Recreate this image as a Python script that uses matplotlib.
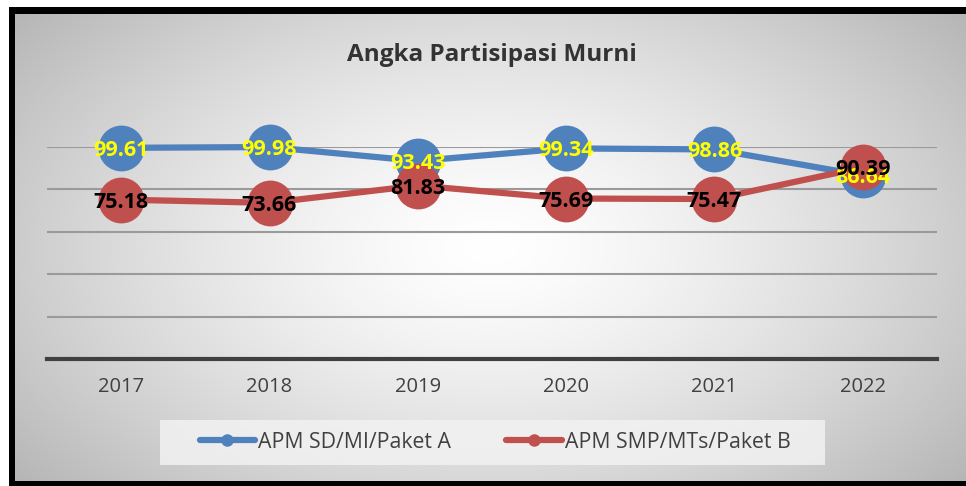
import numpy as np
import matplotlib
matplotlib.use("Agg")
import matplotlib.pyplot as plt
from matplotlib.lines import Line2D

# data
years = ["2017", "2018", "2019", "2020", "2021", "2022"]
apm_sd = [99.61, 99.98, 93.43, 99.34, 98.86, 86.64]
apm_smp = [75.18, 73.66, 81.83, 75.69, 75.47, 90.39]
series_names = ["APM SD/MI/Paket A", "APM SMP/MTs/Paket B"]
title = "Angka Partisipasi Murni"

blue = "#4f81bd"
red = "#c0504d"
font = ["Open Sans", "DejaVu Sans"]
plt.rcParams["font.family"] = font

W, H = 966, 486
fig = plt.figure(figsize=(W / 100, H / 100), dpi=100)
fig.patch.set_facecolor("white")

# black frame, then gradient panel inside it
frame = fig.add_axes([9 / W, 0, 1 - 9 / W, (H - 7) / H])
frame.set_axis_off()
frame.add_patch(plt.Rectangle((0, 0), 1, 1, color="black", transform=frame.transAxes))

bg = fig.add_axes([15 / W, 5 / H, 1 - 15 / W, (472 - 5) / H])
bg.set_axis_off()
yy, xx = np.mgrid[0:1:300j, 0:1:600j]
r = np.sqrt(((xx - 0.5) / 0.62) ** 2 + ((yy - 0.5) / 0.75) ** 2)
shade = 1.0 - 0.27 * np.clip(r, 0, 1.2) ** 1.4
img = np.dstack([shade, shade, shade])
bg.imshow(img, aspect="auto", extent=[0, 1, 0, 1], interpolation="bilinear")
bg.set_xlim(0, 1)
bg.set_ylim(0, 1)

# legend box (light panel)
fig.patches.append(plt.Rectangle((160 / W, 1 - 465 / H), 665 / W, 45 / H,
                                 transform=fig.transFigure, facecolor="#f2f2f2",
                                 edgecolor="none", alpha=0.85, zorder=1))

ax = fig.add_axes([47 / W, (H - 359) / H, (937 - 47) / W, (359 - 147) / H])
ax.set_facecolor("none")
x = np.arange(len(years))

ax.plot(x, apm_sd, color=blue, lw=4.5, marker="o", ms=33, mec="none",
        solid_capstyle="round", clip_on=False, zorder=3)
ax.plot(x, apm_smp, color=red, lw=4.5, marker="o", ms=33, mec="none",
        solid_capstyle="round", clip_on=False, zorder=4)

for xi, v in zip(x, apm_sd):
    ax.text(xi, v, f"{v:.2f}", ha="center", va="center_baseline", color="yellow",
            fontsize=15.5, fontweight="bold", zorder=5)
for xi, v in zip(x, apm_smp):
    ax.text(xi, v, f"{v:.2f}", ha="center", va="center_baseline", color="black",
            fontsize=15.5, fontweight="bold", zorder=6)

ax.set_xlim(-0.5, len(years) - 0.5)
ax.set_ylim(0, 100)
ax.set_yticks([20, 40, 60, 80, 100])
ax.yaxis.grid(True, color="#9a9a9a", lw=1.5)
ax.set_axisbelow(True)
ax.tick_params(axis="y", length=0, labelleft=False)
ax.set_xticks(x)
ax.set_xticklabels(years)
ax.tick_params(axis="x", length=0, labelsize=14.5, labelcolor="#404040", pad=13)
for s in ["top", "right", "left"]:
    ax.spines[s].set_visible(False)
ax.spines["bottom"].set_color("#404040")
ax.spines["bottom"].set_linewidth(3)

fig.text(492 / W, 1 - 55 / H, title, ha="center", va="center",
         fontsize=17.5, fontweight="bold", color="#333333")

handles = [
    Line2D([], [], color=blue, lw=4.5, marker="o", ms=9, mec="none", solid_capstyle="round"),
    Line2D([], [], color=red, lw=4.5, marker="o", ms=9, mec="none", solid_capstyle="round"),
]
leg = fig.legend(handles, series_names, loc="center", ncol=2,
                 bbox_to_anchor=(495 / W, 1 - 442 / H), frameon=False,
                 fontsize=15.3, handlelength=2.6, handletextpad=0.15,
                 columnspacing=2.6, borderaxespad=0)
for t in leg.get_texts():
    t.set_color("#404040")

fig.savefig("out.png", dpi=100, facecolor=fig.get_facecolor())
